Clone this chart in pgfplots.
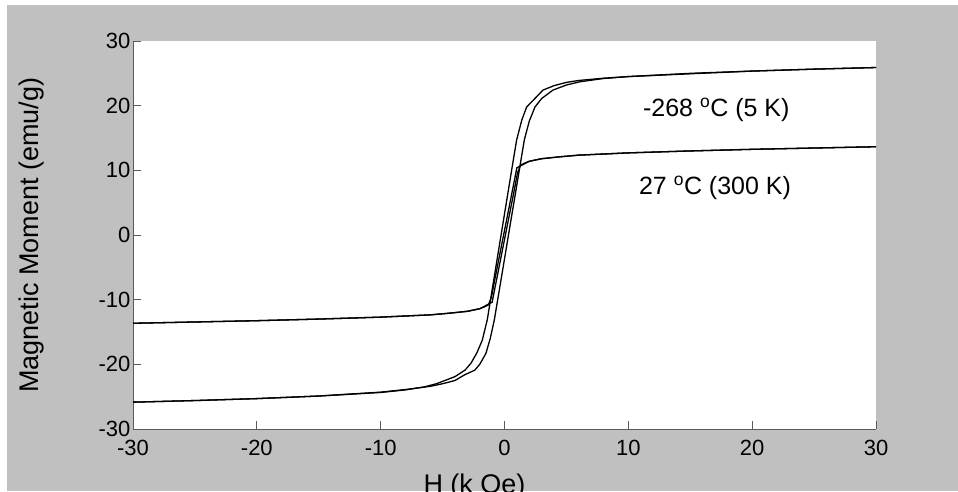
\documentclass[border=0pt]{standalone}
\usepackage{fontspec}
\setmainfont{Liberation Sans}
\usepackage{pgfplots}
\pgfplotsset{compat=1.18}
\definecolor{bgray}{RGB}{192,192,192}
\definecolor{axgray}{RGB}{90,90,90}

\begin{document}
\begin{tikzpicture}[x=1pt,y=1pt]
\fill[white] (0,0) rectangle (958,491);
\fill[bgray] (7,0) rectangle (958,486);
\useasboundingbox (0,0) rectangle (958,491);
\begin{axis}[
    at={(133pt,62pt)}, anchor=south west,
    scale only axis, width=743pt, height=388pt,
    xmin=-30, xmax=30, ymin=-30, ymax=30,
    xtick={-30,-20,...,30}, ytick={-30,-20,...,30},
    axis x line*=bottom, axis y line*=left,
    x axis line style={-, axgray, line width=1pt},
    y axis line style={-, axgray, line width=1pt},
    tick align=inside,
    major tick length=8pt,
    every tick/.style={axgray, line width=1pt},
    axis background/.style={fill=white},
    /pgf/number format/assume math mode=true,
    ticklabel style={font=\fontsize{22}{26}\selectfont},
    xticklabel style={yshift=-8pt},
    yticklabel style={xshift=1pt},
    xlabel={H (k Oe)}, ylabel={Magnetic Moment (emu/g)},
    label style={font=\fontsize{27}{32}\selectfont},
    xlabel style={yshift=-11pt, xshift=-30pt},
    ylabel style={yshift=48pt},
    clip=false,
]
% 5 K, ascending branch
\addplot[black, line width=1.3pt] coordinates {
(-30,-25.85) (-25,-25.6) (-20,-25.3) (-15,-24.9) (-10,-24.3) (-8,-23.9)
(-6,-23.4) (-5,-23.0) (-4,-22.5) (-3.2,-21.6) (-2.4,-20.9) (-2.0,-20.0)
(-1.5,-18.3) (-1.15,-16.0) (-0.82,-13.1) (-0.4,-8.3) (0,-3.7) (0.4,0.9)
(0.8,5.5) (1.2,10.1) (1.6,14.7) (2.0,17.6) (2.46,19.8) (3.0,21.1)
(3.9,22.4) (5.0,23.2) (6.1,23.7) (8,24.2) (10,24.5) (15.8,25.0)
(20,25.35) (25,25.65) (30,25.9)
};
% 5 K, descending branch
\addplot[black, line width=1.3pt] coordinates {
(30,25.9) (25,25.65) (20,25.35) (15,25.0) (10,24.5) (8,24.25) (6,23.9)
(5,23.6) (4,23.1) (3.1,22.4) (2.4,21.0) (1.79,19.8) (1.4,17.8) (0.98,14.7)
(0.6,10.3) (0.2,5.6) (-0.2,0.9) (-0.6,-3.8) (-1.0,-8.5) (-1.39,-13.1)
(-1.8,-16.3) (-2.25,-18.3) (-2.7,-19.8) (-3.19,-20.9) (-4.0,-21.9)
(-4.68,-22.4) (-5.5,-23.0) (-6.5,-23.5) (-8,-23.95) (-10,-24.35)
(-15,-24.9) (-20,-25.3) (-25,-25.6) (-30,-25.85)
};
% 300 K, ascending branch
\addplot[black, line width=1.3pt] coordinates {
(-30,-13.65) (-25,-13.45) (-20,-13.25) (-15,-13.0) (-10,-12.7) (-6,-12.35)
(-4.5,-12.1) (-3,-11.8) (-2,-11.4) (-1.6,-11.0) (-1.3,-10.7) (-1.0,-10.4)
(-0.8,-8.46) (-0.4,-4.58) (0,-0.7) (0.4,3.18) (0.8,7.06) (1.05,9.6)
(1.3,10.8) (1.6,11.1) (2,11.4) (3,11.8) (4.5,12.1) (6,12.35) (10,12.7)
(15,13.0) (20,13.25) (25,13.45) (30,13.65)
};
% 300 K, descending branch
\addplot[black, line width=1.3pt] coordinates {
(30,13.65) (25,13.45) (20,13.25) (15,13.0) (10,12.7) (6,12.35) (4.5,12.1)
(3,11.8) (2,11.4) (1.6,11.0) (1.3,10.7) (1.0,10.4) (0.8,8.46) (0.4,4.58)
(0,0.7) (-0.4,-3.18) (-0.8,-7.06) (-1.05,-9.6) (-1.3,-10.8) (-1.6,-11.1)
(-2,-11.4) (-3,-11.8) (-4.5,-12.1) (-6,-12.35) (-10,-12.7) (-15,-13.0)
(-20,-13.25) (-25,-13.45) (-30,-13.65)
};
\node[font=\fontsize{25}{30}\selectfont] at (axis cs:17.1,19.3) {-268 \textsuperscript{o}C (5 K)};
\node[font=\fontsize{25}{30}\selectfont] at (axis cs:17.0,7.3) {27 \textsuperscript{o}C (300 K)};
\end{axis}
\end{tikzpicture}
\end{document}
